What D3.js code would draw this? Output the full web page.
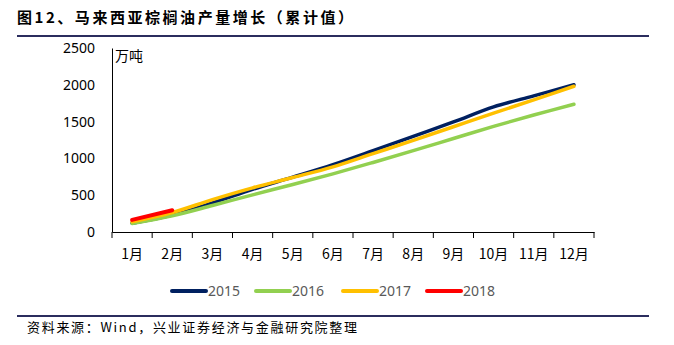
<!DOCTYPE html>
<html><head><meta charset="utf-8">
<script src="https://cdn.jsdelivr.net/npm/d3@7"></script>
<style>
html,body{margin:0;padding:0;background:#fff;}
svg{display:block;}
</style></head>
<body>
<svg id="chart" width="674" height="345"></svg>
<script>
const months = ["1月","2月","3月","4月","5月","6月","7月","8月","9月","10月","11月","12月"];
const yTicks = [0, 500, 1000, 1500, 2000, 2500];
const seriesNames = ["2015", "2016", "2017", "2018"];
const colors = ["#002060", "#92D050", "#FFC000", "#FF0000"];
const v2015 = [120, 230, 395, 580, 745, 915, 1105, 1300, 1495, 1700, 1850, 2000];
const v2016 = [115, 220, 360, 505, 645, 790, 945, 1105, 1270, 1435, 1590, 1735];
const v2017 = [140, 265, 440, 600, 740, 885, 1065, 1245, 1430, 1615, 1795, 1980];
const v2018 = [165, 295];
const seriesValues = [v2015, v2016, v2017, v2018];

const svg = d3.select("#chart");
const ruleColor = "#2B2D5E";

// title
svg.append("text").attr("x", 17).attr("y", 23)
  .attr("font-family", "'Noto Sans CJK SC'").attr("font-weight", "bold")
  .attr("font-size", 15).attr("fill", "#000")
  .attr("textLength", 336).attr("lengthAdjust", "spacing")
  .text("图12、马来西亚棕榈油产量增长（累计值）");
svg.append("line").attr("x1", 17).attr("x2", 649).attr("y1", 36).attr("y2", 36)
  .attr("stroke", ruleColor).attr("stroke-width", 2);

// footer
svg.append("line").attr("x1", 17).attr("x2", 649).attr("y1", 316).attr("y2", 316)
  .attr("stroke", ruleColor).attr("stroke-width", 2);
svg.append("text").attr("x", 27).attr("y", 332)
  .attr("font-family", "'Noto Sans CJK SC'")
  .attr("font-size", 13).attr("fill", "#000")
  .attr("textLength", 330).attr("lengthAdjust", "spacing")
  .text("资料来源：Wind，兴业证券经济与金融研究院整理");

const x = d3.scaleBand().domain(months).range([112, 594]);
const y = d3.scaleLinear().domain([0, 2500]).range([232, 48]);

// y axis
const yAxis = svg.append("g").attr("transform", "translate(112,0)")
  .call(d3.axisLeft(y).tickValues(yTicks).tickSize(0).tickPadding(17).tickFormat(d3.format("d")));
yAxis.select(".domain").attr("stroke", "#000").attr("stroke-width", 1);
yAxis.selectAll("text").attr("font-family", "'Noto Sans', sans-serif").attr("font-size", 14).attr("fill", "#000");

// x axis
const xAxis = svg.append("g").attr("transform", "translate(0,232)")
  .call(d3.axisBottom(x).tickSizeInner(0).tickSizeOuter(0).tickPadding(17));
xAxis.select(".domain").attr("stroke", "#000").attr("stroke-width", 1);
xAxis.selectAll("text").attr("font-family", "'Noto Sans CJK SC'").attr("font-size", 14).attr("fill", "#000");
const bounds = months.map(m => x(m)).concat([x(months[months.length - 1]) + x.bandwidth()]);
xAxis.selectAll("line.bt").data(bounds).enter().append("line")
  .attr("class", "bt").attr("x1", d => d).attr("x2", d => d)
  .attr("y1", 0).attr("y2", 6).attr("stroke", "#000").attr("stroke-width", 1);

// unit
svg.append("text").attr("x", 115).attr("y", 61)
  .attr("font-family", "'Noto Sans CJK SC'").attr("font-size", 14).attr("fill", "#000")
  .text("万吨");

// lines
const line = d3.line()
  .x((d, i) => x(months[i]) + x.bandwidth() / 2)
  .y(d => y(d))
  .curve(d3.curveCatmullRom.alpha(0.5));
seriesValues.forEach((vals, k) => {
  svg.append("path").datum(vals)
    .attr("d", line).attr("fill", "none")
    .attr("stroke", colors[k]).attr("stroke-width", k === 3 ? 4 : 3.5)
    .attr("stroke-linecap", "round").attr("stroke-linejoin", "round");
});

// legend
const legendX = [172, 256, 343, 427];
seriesNames.forEach((name, k) => {
  const g = svg.append("g").attr("transform", `translate(${legendX[k]},291)`);
  g.append("line").attr("x1", 0).attr("x2", 34).attr("y1", 0).attr("y2", 0)
    .attr("stroke", colors[k]).attr("stroke-width", 4).attr("stroke-linecap", "round");
  g.append("text").attr("x", 36).attr("y", 5)
    .attr("font-family", "'Noto Sans', sans-serif").attr("font-size", 14).attr("fill", "#595959")
    .text(name);
});
</script>
</body></html>
